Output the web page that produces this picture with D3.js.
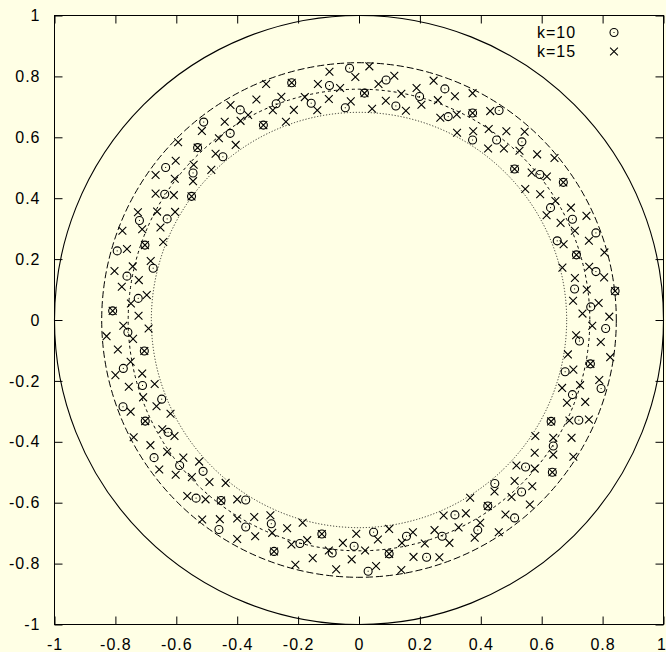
<!DOCTYPE html>
<html>
<head>
<meta charset="utf-8">
<script src="https://cdn.jsdelivr.net/npm/d3@7"></script>
<style>
  html, body { margin: 0; padding: 0; background: #ffffe5; }
  svg { display: block; }
  text { font-family: "Liberation Sans", Arial, sans-serif; font-size: 16px; letter-spacing: 1px; fill: #000; }
</style>
</head>
<body>
<svg width="666" height="652"></svg>
<script>
// tick labels for both axes
var ticks = [-1, -0.8, -0.6, -0.4, -0.2, 0, 0.2, 0.4, 0.6, 0.8, 1];

// reference rings: unit circle, outer dashed, middle, inner dotted
var ringRadii = [1, 0.845, 0.758, 0.682];

var seriesNames = ["k=10", "k=15"];

// points that belong to both series (drawn as circle + cross)
var shared = [
  [-0.809, 0.030], [-0.703, 0.246], [-0.550, 0.406], [-0.530, 0.566], [-0.314, 0.640], [-0.221, 0.779],
  [0.018, 0.745], [0.373, 0.680], [0.511, 0.496], [0.671, 0.452], [0.714, 0.214], [0.841, 0.095],
  [-0.705, -0.102], [-0.702, -0.332], [-0.453, -0.593], [-0.279, -0.760], [-0.122, -0.703],
  [0.760, -0.144], [0.631, -0.333], [0.635, -0.500], [0.423, -0.611], [0.099, -0.768]
];

var k10Only = [
  [-0.794, 0.227], [-0.762, 0.144], [-0.725, 0.071], [-0.721, 0.327], [-0.676, 0.170], [-0.638, 0.413],
  [-0.630, 0.332], [-0.635, 0.501], [-0.545, 0.483], [-0.510, 0.650], [-0.447, 0.536], [-0.423, 0.613],
  [-0.390, 0.690], [-0.272, 0.710], [-0.157, 0.712], [-0.097, 0.770],
  [-0.031, 0.827], [0.089, 0.788], [-0.045, 0.697], [0.121, 0.703], [0.199, 0.734], [0.282, 0.759],
  [0.293, 0.668], [0.460, 0.688], [0.373, 0.591], [0.452, 0.591], [0.535, 0.585], [0.594, 0.478],
  [0.629, 0.369], [0.701, 0.331], [0.778, 0.286], [0.651, 0.260], [0.778, 0.159], [0.708, 0.102],
  [0.761, 0.043], [0.810, -0.028],
  [-0.759, -0.040], [-0.774, -0.159], [-0.711, -0.215], [-0.775, -0.285], [-0.648, -0.260], [-0.627, -0.369],
  [-0.673, -0.452], [-0.589, -0.478], [-0.512, -0.497], [-0.535, -0.585], [-0.372, -0.591], [-0.460, -0.688],
  [-0.372, -0.680], [-0.288, -0.669], [-0.194, -0.734], [-0.088, -0.765],
  [0.724, -0.069], [0.677, -0.170], [0.795, -0.225], [0.701, -0.245], [0.722, -0.329], [0.638, -0.414],
  [0.547, -0.483], [0.446, -0.537], [0.534, -0.565], [0.511, -0.650], [0.315, -0.640], [0.390, -0.690],
  [0.273, -0.710], [0.156, -0.710], [0.222, -0.779], [0.048, -0.697], [-0.016, -0.743], [0.030, -0.825]
];

var k15Only = [
  [-0.777, 0.293], [-0.803, 0.161], [-0.779, 0.109], [-0.762, 0.233], [-0.743, 0.176], [-0.749, 0.054],
  [-0.726, 0.354], [-0.712, 0.298], [-0.723, 0.131], [-0.697, 0.082], [-0.724, 0.014], [-0.774, -0.019],
  [-0.691, -0.028], [-0.684, 0.194], [-0.668, 0.415], [-0.668, 0.476], [-0.663, 0.356], [-0.652, 0.304],
  [-0.643, 0.256], [-0.608, 0.410], [-0.605, 0.464], [-0.602, 0.523], [-0.604, 0.355], [-0.594, 0.584],
  [-0.545, 0.456], [-0.543, 0.510], [-0.516, 0.621], [-0.485, 0.493], [-0.471, 0.546], [-0.460, 0.597],
  [-0.441, 0.651], [-0.405, 0.575], [-0.422, 0.706], [-0.389, 0.654], [-0.364, 0.673], [-0.337, 0.724],
  [-0.305, 0.775], [-0.283, 0.689], [-0.255, 0.733], [-0.240, 0.651], [-0.214, 0.690], [-0.178, 0.732],
  [-0.137, 0.689], [-0.135, 0.775], [-0.099, 0.726], [-0.097, 0.815],
  [0.034, 0.833], [-0.012, 0.798], [-0.062, 0.762], [-0.027, 0.718], [0.064, 0.775], [0.116, 0.802],
  [0.043, 0.694], [0.088, 0.720], [0.139, 0.743], [0.154, 0.687], [0.189, 0.762], [0.205, 0.707],
  [0.245, 0.786], [0.259, 0.722], [0.267, 0.664], [0.315, 0.735], [0.321, 0.675], [0.373, 0.745],
  [0.322, 0.615], [0.375, 0.620], [0.426, 0.627], [0.431, 0.686], [0.484, 0.620], [0.424, 0.563],
  [0.476, 0.563], [0.527, 0.556], [0.544, 0.618], [0.585, 0.544], [0.642, 0.532], [0.567, 0.484],
  [0.617, 0.471], [0.546, 0.430], [0.595, 0.413], [0.645, 0.391], [0.696, 0.369], [0.616, 0.344],
  [0.747, 0.342], [0.662, 0.319], [0.709, 0.293], [0.672, 0.249], [0.755, 0.260], [0.806, 0.222],
  [0.668, 0.172], [0.756, 0.175], [0.709, 0.138], [0.805, 0.140], [0.748, 0.100], [0.703, 0.063],
  [0.787, 0.056], [0.734, 0.021], [0.822, 0.011], [0.766, -0.019],
  [-0.829, -0.053], [-0.742, -0.062], [-0.792, -0.097], [-0.800, -0.181], [-0.750, -0.137], [-0.712, -0.176],
  [-0.756, -0.219], [-0.671, -0.210], [-0.709, -0.254], [-0.750, -0.301], [-0.665, -0.283], [-0.619, -0.308],
  [-0.740, -0.385], [-0.646, -0.359], [-0.606, -0.381], [-0.685, -0.411], [-0.630, -0.433], [-0.577, -0.452],
  [-0.656, -0.491], [-0.602, -0.508], [-0.549, -0.516], [-0.525, -0.465], [-0.491, -0.532], [-0.438, -0.535],
  [-0.564, -0.578], [-0.504, -0.589], [-0.515, -0.655], [-0.457, -0.654], [-0.400, -0.589], [-0.400, -0.652],
  [-0.400, -0.719], [-0.344, -0.647], [-0.341, -0.710], [-0.291, -0.641], [-0.285, -0.699], [-0.236, -0.684],
  [-0.222, -0.737], [-0.209, -0.804], [-0.185, -0.666], [-0.170, -0.723], [-0.152, -0.782], [-0.099, -0.757],
  [0.713, -0.050], [0.794, -0.072], [0.825, -0.122], [0.686, -0.113], [0.704, -0.163], [0.726, -0.214],
  [0.789, -0.197], [0.667, -0.223], [0.743, -0.269], [0.683, -0.272], [0.691, -0.330], [0.755, -0.327],
  [0.698, -0.387], [0.704, -0.449], [0.638, -0.387], [0.638, -0.442], [0.579, -0.381], [0.577, -0.436],
  [0.517, -0.478], [0.577, -0.488], [0.511, -0.529], [0.569, -0.546], [0.561, -0.606], [0.445, -0.563],
  [0.501, -0.581], [0.481, -0.639], [0.365, -0.584], [0.351, -0.635], [0.459, -0.697], [0.327, -0.681],
  [0.380, -0.715], [0.398, -0.666], [0.278, -0.642], [0.248, -0.690], [0.297, -0.732], [0.216, -0.734],
  [0.177, -0.697], [0.141, -0.732], [0.099, -0.686], [0.062, -0.721], [0.020, -0.757], [-0.009, -0.702],
  [-0.053, -0.732], [-0.024, -0.786], [0.179, -0.778], [0.264, -0.779], [0.056, -0.808], [0.139, -0.821],
  [-0.075, -0.819]
];

var k10 = k10Only.concat(shared);
var k15 = k15Only.concat(shared);

var svg = d3.select("svg");
var plotLeft = 54.5, plotRight = 663.5, plotTop = 15.5, plotBottom = 624.5;

var x = d3.scaleLinear().domain([-1, 1]).range([plotLeft, plotRight]);
var y = d3.scaleLinear().domain([-1, 1]).range([plotBottom, plotTop]);

var fmt = function (d) { return String(+d.toFixed(1)); };
var tickLen = 8;

// axes with inward ticks, mirrored on top and right
var xAxis = svg.append("g")
    .attr("transform", "translate(0," + plotBottom + ")")
    .call(d3.axisBottom(x).tickValues(ticks).tickFormat(fmt).tickSizeInner(-tickLen).tickSizeOuter(0).tickPadding(14));
svg.append("g")
    .attr("transform", "translate(" + plotLeft + ",0)")
    .call(d3.axisLeft(y).tickValues(ticks).tickFormat(fmt).tickSizeInner(-tickLen).tickSizeOuter(0).tickPadding(14));
svg.append("g")
    .attr("transform", "translate(0," + plotTop + ")")
    .call(d3.axisTop(x).tickValues(ticks).tickFormat("").tickSizeInner(-tickLen).tickSizeOuter(0));
svg.append("g")
    .attr("transform", "translate(" + plotRight + ",0)")
    .call(d3.axisRight(y).tickValues(ticks).tickFormat("").tickSizeInner(-tickLen).tickSizeOuter(0));

// last x label sits right at the page edge, keep it inside
xAxis.selectAll(".tick text").filter(function (d) { return d === 1; }).attr("dx", -2);

svg.selectAll(".domain").remove();
svg.selectAll(".tick line").attr("stroke", "#000");
svg.selectAll("g").attr("font-size", null).attr("font-family", null);

svg.append("rect")
    .attr("x", plotLeft).attr("y", plotTop)
    .attr("width", plotRight - plotLeft).attr("height", plotBottom - plotTop)
    .attr("fill", "none").attr("stroke", "#000");

// rings
var ringDash = [null, "7,3", "3,3", "1.2,1.8"];
var ringWidth = [1.1, 1, 1, 0.8];
svg.append("g").selectAll("circle")
    .data(ringRadii)
    .enter().append("circle")
    .attr("cx", x(0))
    .attr("cy", y(0))
    .attr("r", function (d) { return x(d) - x(0); })
    .attr("fill", "none")
    .attr("stroke", "#000")
    .attr("stroke-width", function (d, i) { return ringWidth[i]; })
    .attr("stroke-dasharray", function (d, i) { return ringDash[i]; });

var r = 4;
var h = 3.9;
var crossPath = "M" + (-h) + "," + (-h) + "L" + h + "," + h + "M" + (-h) + "," + h + "L" + h + "," + (-h);

function drawCircles(g, data) {
  var p = g.selectAll("g.c")
      .data(data)
      .enter().append("g")
      .attr("class", "c")
      .attr("transform", function (d) { return "translate(" + x(d[0]) + "," + y(d[1]) + ")"; });
  p.append("circle").attr("r", r).attr("fill", "none").attr("stroke", "#000").attr("stroke-width", 1.1);
  p.append("rect").attr("x", -0.5).attr("y", -0.5).attr("width", 1).attr("height", 1).attr("fill", "#000");
}

function drawCrosses(g, data) {
  g.selectAll("path.x")
      .data(data)
      .enter().append("path")
      .attr("class", "x")
      .attr("d", crossPath)
      .attr("transform", function (d) { return "translate(" + x(d[0]) + "," + y(d[1]) + ")"; })
      .attr("fill", "none")
      .attr("stroke", "#000")
      .attr("stroke-width", 1.1);
}

drawCircles(svg.append("g"), k10);
drawCrosses(svg.append("g"), k15);

// legend
var legend = svg.append("g");
var legendY = [37.5, 56.5];
legend.selectAll("text")
    .data(seriesNames)
    .enter().append("text")
    .attr("x", 537)
    .attr("y", function (d, i) { return legendY[i]; })
    .text(function (d) { return d; });
drawCircles(legend.append("g"), [[x.invert(614), y.invert(32.5)]]);
drawCrosses(legend.append("g"), [[x.invert(614), y.invert(51.5)]]);
</script>
</body>
</html>
